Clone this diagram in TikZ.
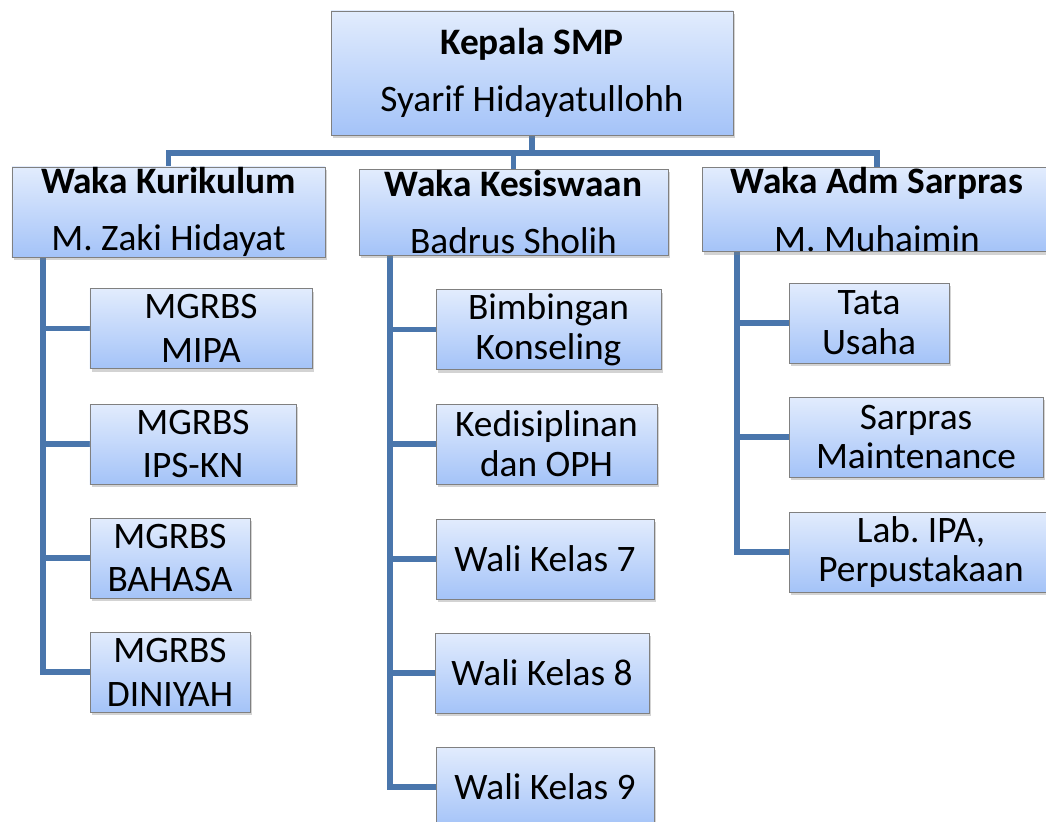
\documentclass[tikz,border=0pt]{standalone}
\usepackage{fontspec}
\setmainfont{Carlito}
\usepackage{xcolor}
\usetikzlibrary{positioning,shadows,backgrounds}

\definecolor{linecol}{HTML}{4A76AC}
\definecolor{boxtop}{HTML}{E2ECFD}
\definecolor{boxbot}{HTML}{A4C3F8}
\definecolor{boxline}{HTML}{808080}

\begin{document}
\frenchspacing
\begin{tikzpicture}[x=1bp,y=-1bp,
    box/.style={draw=boxline,line width=0.8bp,top color=boxtop,bottom color=boxbot,
      drop shadow={shadow xshift=2bp,shadow yshift=-3bp,opacity=0.35},inner sep=0pt,align=center},
    head/.style={box,font=\fontsize{37.5}{58}\selectfont,minimum height=86bp},
    sub/.style={box,font=\fontsize{37.5}{40}\selectfont,minimum height=80bp},
    conn/.style={draw=linecol,line width=5.5bp,line cap=rect}]

    \useasboundingbox (0,0) rectangle (1046,822);
    \clip (0,0) rectangle (1046,822);

    % The chart
	\node [head,minimum width=402bp,minimum height=124bp] at (532,73) (K) {\textbf{Kepala SMP}\\Syarif Hidayatullohh};
	\node [head,minimum width=313bp] at (168.5,212) (WK) {\textbf{Waka Kurikulum}\\M. Zaki Hidayat};
	\node [head,minimum width=309bp] at (513.5,212) (WS) {\textbf{Waka Kesiswaan}\\Badrus Sholih};
	\node [head,minimum width=350bp,minimum height=79bp] at (877,209.5) (WA) {\textbf{Waka Adm Sarpras}\\M. Muhaimin};

	\node [sub,minimum width=222bp] at (201,328.5) (M1) {MGRBS\\[4bp]MIPA};
	\node [sub,minimum width=206bp] at (193,444) (M2) {MGRBS\\[4bp]IPS-KN};
	\node [sub,minimum width=160bp] at (170,558) (M3) {MGRBS\\[4bp]BAHASA};
	\node [sub,minimum width=160bp] at (170,672) (M4) {MGRBS\\[4bp]DINIYAH};

	\node [sub,minimum width=225bp] at (548.5,329.5) (S1) {Bimbingan\\Konseling};
	\node [sub,minimum width=221bp] at (546.5,444) (S2) {Kedisiplinan\\dan OPH};
	\node [sub,minimum width=218bp] at (545,559) (S3) {Wali Kelas 7};
	\node [sub,minimum width=214bp] at (542,673) (S4) {Wali Kelas 8};
	\node [sub,minimum width=218bp] at (545,787) (S5) {Wali Kelas 9};

	\node [sub,minimum width=160bp] at (869,323) (A1) {Tata\\Usaha};
	\node [sub,minimum width=254bp] at (916,437) (A2) {Sarpras\\Maintenance};
	\node [sub,minimum width=264bp] at (921,552) (A3) {Lab. IPA,\\Perpustakaan};

	\coordinate (bar) at (0,153);
	\coordinate (tK) at (43,0);
	\coordinate (tS) at (390,0);
	\coordinate (tA) at (737,0);

	% Chart lines
	\begin{scope}[on background layer]
	\draw[conn] (K.south) -- (K.south |- bar);
	\draw[conn] (WK.north) -- (WK.north |- bar) -- (WA.north |- bar) -- (WA.north);
	\draw[conn] (WS.north) -- (WS.north |- bar);

	\draw[conn] (WK.south -| tK) -- (M4.west -| tK);
	\draw[conn] (WS.south -| tS) -- (S5.west -| tS);
	\draw[conn] (WA.south -| tA) -- (A3.west -| tA);

	\path[conn]
	(M1.west -| tK) edge (M1.west)
	(M2.west -| tK) edge (M2.west)
	(M3.west -| tK) edge (M3.west)
	(M4.west -| tK) edge (M4.west)
	(S1.west -| tS) edge (S1.west)
	(S2.west -| tS) edge (S2.west)
	(S3.west -| tS) edge (S3.west)
	(S4.west -| tS) edge (S4.west)
	(S5.west -| tS) edge (S5.west)
	(A1.west -| tA) edge (A1.west)
	(A2.west -| tA) edge (A2.west)
	(A3.west -| tA) edge (A3.west)
	;
	\end{scope}

\end{tikzpicture}
\end{document}
